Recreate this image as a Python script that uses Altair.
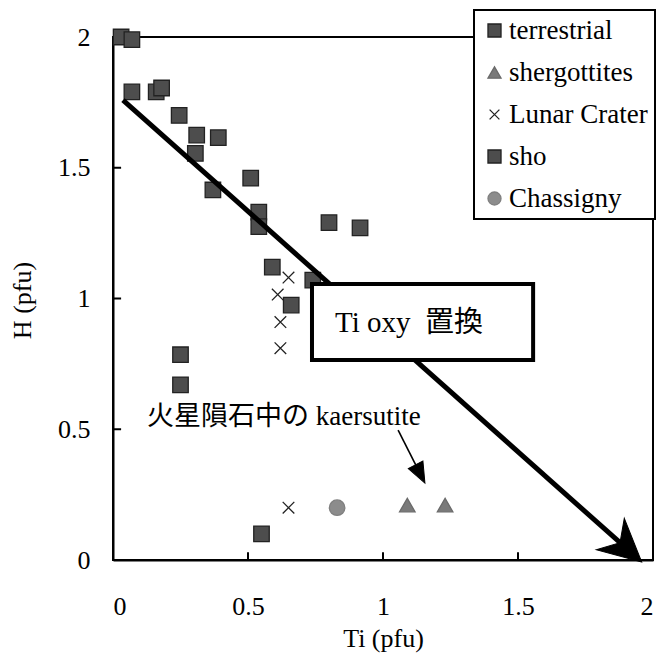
import altair as alt
import pandas as pd

# ---- data ----
terr_x = [0.03, 0.07, 0.07, 0.16, 0.18, 0.245, 0.31, 0.39, 0.305, 0.37, 0.51, 0.54, 0.54, 0.80, 0.915]
terr_y = [2.00, 1.99, 1.79, 1.79, 1.805, 1.70, 1.625, 1.615, 1.555, 1.415, 1.46, 1.33, 1.275, 1.29, 1.27]
sho_x = [0.59, 0.74, 0.66, 0.25, 0.25, 0.55]
sho_y = [1.12, 1.07, 0.975, 0.785, 0.67, 0.10]
lunar_x = [0.65, 0.61, 0.62, 0.62, 0.65]
lunar_y = [1.08, 1.015, 0.91, 0.81, 0.20]
sherg_x = [1.09, 1.23]
sherg_y = [0.21, 0.21]
chass_x = [0.83]
chass_y = [0.20]

series_names = ["terrestrial", "shergottites", "Lunar Crater", "sho", "Chassigny"]

tick_values = [0, 0.5, 1, 1.5, 2]
inner_ticks = [0.5, 1, 1.5]

# thick arrow (Ti oxy substitution)
thick_x = [0.037]
thick_y = [1.759]
thick_x2 = [1.90]
thick_y2 = [0.046]
thick_head_x = [1.90]
thick_head_y = [0.046]

# thin arrow (kaersutite)
thin_x = [1.056]
thin_y = [0.497]
thin_x2 = [1.138]
thin_y2 = [0.329]
thin_head_x = [1.138]
thin_head_y = [0.329]

# text box
box_x = [0.737]
box_x2 = [1.556]
box_y = [0.765]
box_y2 = [1.055]
box_label = ["Ti oxy\u00a0\u00a0置換"]
box_label_x = [0.822]
box_label_y = [0.872]

note_label = ["火星隕石中の kaersutite"]
note_x = [0.126]
note_y = [0.516]

SERIF = "Liberation Serif, Times New Roman, serif"
MIXED = "Liberation Serif, Noto Sans CJK JP, serif"
X_PATH = "M-0.75,-0.75L0.75,0.75M0.75,-0.75L-0.75,0.75"

rows = []
for name, xs_, ys_ in [
    ("terrestrial", terr_x, terr_y),
    ("sho", sho_x, sho_y),
    ("Lunar Crater", lunar_x, lunar_y),
    ("shergottites", sherg_x, sherg_y),
    ("Chassigny", chass_x, chass_y),
]:
    for a, b in zip(xs_, ys_):
        rows.append({"x": a, "y": b, "series": name})
points = pd.DataFrame(rows)

xs = alt.Scale(domain=[0, 2], nice=False, zero=False)
ys = alt.Scale(domain=[0, 2], nice=False, zero=False)

xaxis = alt.Axis(
    title="Ti (pfu)", values=tick_values, format="~g", grid=False, tickSize=0,
    labelPadding=33, labelFont=SERIF, labelFontSize=26, labelColor="black",
    titleFont=SERIF, titleFontSize=26, titleFontWeight="normal", titleColor="black",
    titleX=270, titleY=86, titleAlign="center", titleBaseline="alphabetic",
    domainColor="black", domainWidth=2,
)
yaxis = alt.Axis(
    title="H (pfu)", values=tick_values, format="~g", grid=False, tickSize=0,
    labelPadding=23, labelFont=SERIF, labelFontSize=26, labelColor="black",
    titleFont=SERIF, titleFontSize=26, titleFontWeight="normal", titleColor="black",
    titleAngle=270, titleX=-91, titleY=263, titleAlign="center", titleBaseline="middle",
    domainColor="black", domainWidth=2,
)


def X(f="x"):
    return alt.X(f"{f}:Q", scale=xs, axis=xaxis)


def Y(f="y"):
    return alt.Y(f"{f}:Q", scale=ys, axis=yaxis)


pts = alt.Chart(points).mark_point(opacity=1, size=240, strokeWidth=1.3).encode(
    x=X(), y=Y(),
    shape=alt.Shape("series:N", title=None,
                    scale=alt.Scale(domain=series_names,
                                    range=["square", "triangle-up", X_PATH, "square", "circle"])),
    fill=alt.Fill("series:N", title=None,
                  scale=alt.Scale(domain=series_names,
                                  range=["#4d4d4d", "#7a7a7a", "transparent", "#4d4d4d", "#8c8c8c"])),
    stroke=alt.Stroke("series:N", title=None,
                      scale=alt.Scale(domain=series_names,
                                      range=["#222222", "#6a6a6a", "#222222", "#222222", "#7f7f7f"])),
)

# inward ticks
xt = pd.DataFrame({"x": inner_ticks, "y": [0] * 3, "y2": [0.03] * 3})
yt = pd.DataFrame({"y": inner_ticks, "x": [0] * 3, "x2": [0.03] * 3})
xtick = alt.Chart(xt).mark_rule(color="black", strokeWidth=2).encode(x=X(), y=Y(), y2="y2:Q")
ytick = alt.Chart(yt).mark_rule(color="black", strokeWidth=2).encode(y=Y(), x=X(), x2="x2:Q")

thick = alt.Chart(pd.DataFrame({"x": thick_x, "y": thick_y, "x2": thick_x2, "y2": thick_y2})).mark_rule(
    color="black", strokeWidth=5).encode(x=X(), y=Y(), x2="x2:Q", y2="y2:Q")
thick_head = alt.Chart(pd.DataFrame({"x": thick_head_x, "y": thick_head_y})).mark_point(
    shape="M1,0L-1,-1L-0.38,0L-1,1Z", size=1764, angle=41.7, filled=True, fill="black",
    stroke="black", strokeWidth=1, opacity=1).encode(x=X(), y=Y())

box = alt.Chart(pd.DataFrame({"x": box_x, "x2": box_x2, "y": box_y, "y2": box_y2})).mark_rect(
    fill="white", stroke="black", strokeWidth=4).encode(x=X(), x2="x2:Q", y=Y(), y2="y2:Q")
box_text = alt.Chart(pd.DataFrame({"x": box_label_x, "y": box_label_y, "t": box_label})).mark_text(
    align="left", baseline="alphabetic", font=MIXED, fontSize=29, color="black").encode(
    x=X(), y=Y(), text="t:N")

note = alt.Chart(pd.DataFrame({"x": note_x, "y": note_y, "t": note_label})).mark_text(
    align="left", baseline="alphabetic", font=MIXED, fontSize=27, color="black").encode(
    x=X(), y=Y(), text="t:N")

thin = alt.Chart(pd.DataFrame({"x": thin_x, "y": thin_y, "x2": thin_x2, "y2": thin_y2})).mark_rule(
    color="black", strokeWidth=1.6).encode(x=X(), y=Y(), x2="x2:Q", y2="y2:Q")
thin_head = alt.Chart(pd.DataFrame({"x": thin_head_x, "y": thin_head_y})).mark_point(
    shape="M1,0L-1,-0.8L-1,0.8Z", size=420, angle=63, filled=True, fill="black",
    stroke="black", strokeWidth=1, opacity=1).encode(x=X(), y=Y())

chart = alt.layer(
    pts, xtick, ytick, thick, thick_head, box, box_text, note, thin, thin_head
).properties(
    width=540, height=523,
    autosize=alt.AutoSizeParams(type="none"),
    padding={"left": 105, "top": 29, "right": 3, "bottom": 93},
).configure_view(
    stroke="black", strokeWidth=2
).configure_legend(
    orient="none", legendX=361, legendY=-27,
    strokeColor="black", strokeWidth=2, fillColor="white", padding=7,
    labelFont=SERIF, labelFontSize=27, labelColor="black", labelLimit=300, labelOffset=1,
    symbolSize=170, symbolStrokeWidth=1.3, rowPadding=14, symbolOpacity=1,
)

chart.save("out.html", embed_options={"renderer": "svg", "actions": False})
